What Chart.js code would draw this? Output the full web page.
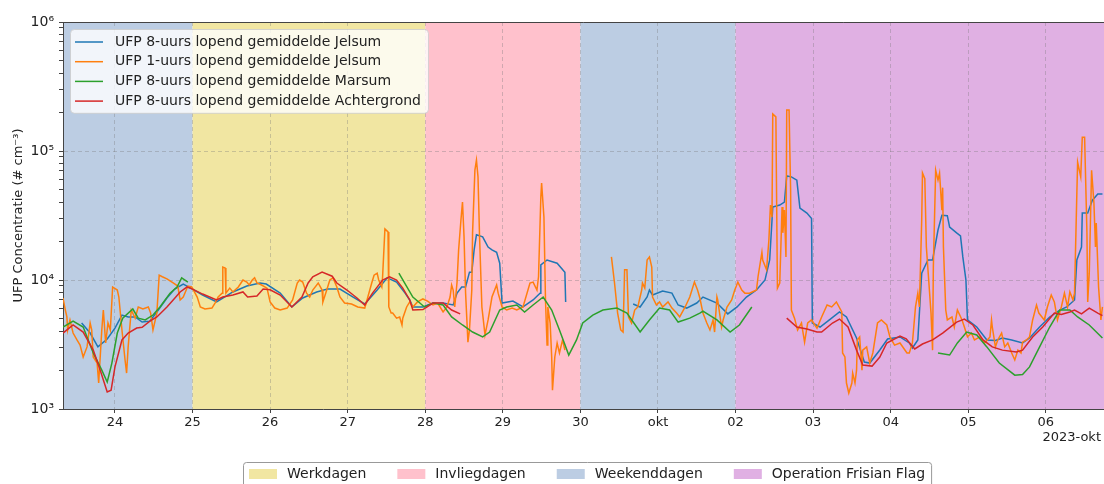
<!DOCTYPE html>
<html>
<head>
<meta charset="utf-8">
<script src="https://cdn.jsdelivr.net/npm/chart.js@4.4.0/dist/chart.umd.min.js"></script>
<style>
    html, body { margin: 0; padding: 0; background: #fff; }
    #wrap { width: 1104px; height: 484px; }
</style>
</head>
<body>
<div id="wrap"><canvas id="ufpChart" width="1104" height="484"></canvas></div>
<script>
// x values are days counted from 1 september 2023 (31 = 1 okt)
const dayTicks = [24, 25, 26, 27, 28, 29, 30, 31, 32, 33, 34, 35, 36];
const dayLabels = ['24', '25', '26', '27', '28', '29', '30', 'okt', '02', '03', '04', '05', '06'];
const decadeValues = [1e3, 1e4, 1e5, 1e6];
const decadeLabels = ['10\u00b3', '10\u2074', '10\u2075', '10\u2076'];

const bandStarts = [23.33, 25, 28, 30, 32];
const bandEnds = [25, 28, 30, 32, 36.75];
const bandTypes = ['Weekenddagen', 'Werkdagen', 'Invliegdagen', 'Weekenddagen', 'Operation Frisian Flag'];
const bandLegendLabels = ['Werkdagen', 'Invliegdagen', 'Weekenddagen', 'Operation Frisian Flag'];

const seriesLabels = [
    'UFP 8-uurs lopend gemiddelde Jelsum',
    'UFP 1-uurs lopend gemiddelde Jelsum',
    'UFP 8-uurs lopend gemiddelde Marsum',
    'UFP 8-uurs lopend gemiddelde Achtergrond'
];

// [day, #/cm3]; null breaks the line
const jelsum8 = [
    [23.57,4640],[23.68,3880],[23.78,3030],[23.90,3490],[24.00,4240],[24.09,5350],[24.17,5170],[24.26,5170],
    [24.35,4720],[24.45,4800],[24.54,5650],[24.67,7250],[24.77,8500],[24.88,9300],[25.00,8500],[25.13,7650],
    [25.31,6760],[25.39,7250],[25.52,8080],[25.70,8980],[25.87,9480],[25.95,9300],[26.13,7910],[26.28,6180],
    [26.42,7250],[26.60,8080],[26.74,8500],[26.90,8500],[27.07,7380],[27.22,6520],[27.38,8360],[27.51,10400],
    [27.63,9640],[27.74,7910],[27.80,7000],[27.84,6180],[27.97,6180],[28.10,6630],[28.23,6630],[28.36,6400],
    [28.41,7910],[28.47,8830],[28.52,8830],[28.57,11500],[28.60,11500],[28.63,17100],[28.66,22400],[28.74,21600],
    [28.81,18000],[28.86,17100],[28.92,16400],[28.96,13500],[28.99,6630],[29.13,6870],[29.26,6180],[29.39,7000],
    [29.48,7910],[29.49,13100],[29.57,14300],[29.70,13500],[29.80,11500],[29.81,6760],[29.82,null],
    [30.68,6520],[30.77,6180],[30.86,7380],[30.89,8360],[30.93,7650],[31.06,8200],[31.18,7910],[31.26,6400],
    [31.37,6060],[31.50,6630],[31.58,7380],[31.76,6630],[31.90,5460],[32.02,6180],[32.14,7380],[32.27,8360],
    [32.38,10000],[32.44,14300],[32.48,36800],[32.57,38100],[32.63,40200],[32.66,64000],[32.72,63000],[32.79,59500],
    [32.83,36100],[32.92,33000],[32.98,30000],[32.99,4640],[33.09,4320],[33.21,4900],[33.34,5650],[33.43,5170],
    [33.56,3550],[33.66,2310],[33.73,2270],[33.86,2870],[33.96,3490],[34.12,3620],[34.24,3250],[34.28,2970],
    [34.35,3430],[34.40,11300],[34.48,14300],[34.54,14300],[34.61,24400],[34.66,31800],[34.73,31500],[34.76,25700],
    [34.85,23200],[34.90,22000],[34.93,15100],[34.97,10000],[34.99,4900],[35.11,4320],[35.24,3430],[35.35,3400],
    [35.44,3550],[35.56,3430],[35.70,3250],[35.79,3550],[35.92,4320],[36.05,5170],[36.18,5850],[36.27,6180],
    [36.37,7000],[36.40,14300],[36.46,18000],[36.47,33000],[36.54,33000],[36.60,41600],[36.67,46500],[36.73,46500]
];

const jelsum1 = [
    [23.33,7250],[23.36,5850],[23.38,5170],[23.39,4100],[23.42,4900],[23.46,3880],[23.51,3430],[23.55,3130],
    [23.59,2530],[23.64,3030],[23.68,4640],[23.70,4100],[23.72,2530],[23.77,2270],[23.79,1590],[23.83,4100],
    [23.85,5850],[23.88,3250],[23.91,4640],[23.94,4100],[23.97,8830],[24.03,8360],[24.05,7380],[24.09,4100],
    [24.13,2400],[24.15,1900],[24.17,3030],[24.21,5850],[24.26,5060],[24.30,6180],[24.36,5960],[24.43,6180],
    [24.46,5540],[24.49,4100],[24.54,5540],[24.57,10900],[24.61,10600],[24.67,10200],[24.75,9480],[24.81,8980],
    [24.84,7000],[24.88,7380],[24.94,8980],[24.99,8830],[25.06,7380],[25.10,6180],[25.16,5960],[25.25,6060],
    [25.29,6630],[25.33,7380],[25.38,7910],[25.39,12600],[25.42,12400],[25.43,7910],[25.48,8650],[25.52,8080],
    [25.59,8830],[25.65,10000],[25.70,9640],[25.73,9150],[25.77,10000],[25.80,10400],[25.83,9480],[25.89,9150],
    [25.96,8650],[26.00,6760],[26.06,6060],[26.13,5850],[26.22,6060],[26.29,7000],[26.35,9480],[26.38,10000],
    [26.42,9640],[26.47,7910],[26.51,7380],[26.55,8360],[26.62,9480],[26.67,8360],[26.68,6760],[26.73,8360],
    [26.77,10000],[26.81,10400],[26.86,8830],[26.90,7380],[26.96,6630],[27.05,6520],[27.13,6180],[27.22,6060],
    [27.26,7380],[27.31,9480],[27.34,10900],[27.38,11300],[27.40,10000],[27.44,8830],[27.45,10600],[27.48,24900],
    [27.52,23600],[27.53,6180],[27.56,5540],[27.58,5540],[27.63,5060],[27.67,5170],[27.70,4480],[27.71,5060],
    [27.76,6180],[27.80,6760],[27.84,6180],[27.90,6760],[27.97,7130],[28.03,6870],[28.10,6400],[28.16,6630],
    [28.23,5650],[28.28,6180],[28.32,7380],[28.34,9150],[28.36,8360],[28.38,6180],[28.41,9640],[28.43,17100],
    [28.46,29200],[28.48,40200],[28.50,21600],[28.52,7910],[28.55,3300],[28.57,4100],[28.60,8360],[28.61,23200],
    [28.64,71000],[28.66,85000],[28.68,63000],[28.70,21600],[28.73,6180],[28.77,3750],[28.81,4900],[28.86,7380],
    [28.92,9150],[28.94,7910],[28.99,6180],[29.05,5850],[29.12,6060],[29.18,5850],[29.26,6180],[29.35,9480],
    [29.39,9640],[29.44,8360],[29.46,10600],[29.49,44000],[29.50,56500],[29.53,30700],[29.55,7000],[29.57,3130],
    [29.58,6180],[29.61,4640],[29.63,2530],[29.64,1400],[29.67,2530],[29.70,3250],[29.73,2720],[29.77,3430],
    [29.80,2860],[29.81,null],
    [30.40,15100],[30.44,9480],[30.48,5540],[30.52,4100],[30.55,3950],[30.57,12000],[30.60,12000],[30.62,5170],
    [30.66,4640],[30.70,5850],[30.74,6180],[30.79,8360],[30.80,9480],[30.83,8650],[30.86,14300],[30.89,15100],
    [30.92,12600],[30.93,7380],[30.98,6400],[31.02,6760],[31.06,6180],[31.13,6760],[31.18,6060],[31.24,5540],
    [31.28,5170],[31.35,6180],[31.41,7380],[31.47,9640],[31.51,8360],[31.54,7250],[31.58,5540],[31.63,4640],
    [31.67,4100],[31.71,4900],[31.73,3950],[31.76,7380],[31.77,7000],[31.82,4320],[31.84,4900],[31.89,6180],
    [31.95,7000],[31.99,8360],[32.03,9640],[32.08,8360],[32.12,7910],[32.18,7910],[32.27,8360],[32.29,10600],
    [32.34,16400],[32.35,14300],[32.40,12000],[32.43,20400],[32.45,38100],[32.47,30700],[32.48,194000],[32.52,184000],
    [32.53,39500],[32.54,8650],[32.57,9480],[32.60,36800],[32.61,23200],[32.63,34800],[32.65,15100],[32.66,208000],
    [32.69,208000],[32.71,49700],[32.72,5850],[32.76,5060],[32.80,4100],[32.85,4640],[32.89,3300],[32.93,4640],
    [32.98,4900],[33.05,4240],[33.11,5170],[33.18,6400],[33.24,6180],[33.30,6760],[33.37,5650],[33.38,2720],
    [33.41,2530],[33.43,1590],[33.46,1330],[33.50,1590],[33.51,1900],[33.54,1590],[33.56,2000],[33.57,3430],
    [33.60,3620],[33.63,2000],[33.64,2860],[33.69,3030],[33.73,2270],[33.77,2720],[33.83,4640],[33.88,4900],
    [33.95,4480],[33.99,3620],[34.05,3130],[34.12,3250],[34.21,2720],[34.24,2720],[34.28,3250],[34.32,6180],
    [34.35,7910],[34.37,6180],[34.40,29200],[34.41,67500],[34.44,61000],[34.46,18000],[34.49,10000],[34.52,5540],
    [34.54,2860],[34.55,12600],[34.58,71000],[34.61,59500],[34.63,67500],[34.66,34800],[34.67,52000],[34.68,18000],
    [34.71,5850],[34.73,4900],[34.79,5170],[34.82,4320],[34.86,5850],[34.92,4900],[34.95,4320],[34.99,3620],
    [35.04,3880],[35.08,3430],[35.15,3620],[35.21,3250],[35.28,3620],[35.30,4900],[35.31,4320],[35.35,3030],
    [35.38,3430],[35.43,3880],[35.47,3030],[35.51,3250],[35.56,2720],[35.60,2400],[35.64,2860],[35.68,2720],
    [35.70,3300],[35.75,3430],[35.79,3620],[35.83,4900],[35.88,6400],[35.91,5540],[35.95,5170],[35.98,4900],
    [36.02,6180],[36.07,7650],[36.11,6760],[36.15,4900],[36.20,6180],[36.24,7910],[36.28,6180],[36.31,8080],
    [36.35,7000],[36.37,7910],[36.40,47300],[36.41,82000],[36.45,63000],[36.47,128000],[36.50,128000],[36.53,23200],
    [36.54,6760],[36.56,11300],[36.59,71000],[36.62,39500],[36.64,18000],[36.65,27600],[36.68,8830],[36.71,4900],
    [36.73,6180]
];

const marsum8 = [
    [23.33,4320],[23.46,4800],[23.59,4320],[23.72,2720],[23.83,2000],[23.90,1620],[23.96,2270],[24.03,3880],
    [24.10,5060],[24.23,5960],[24.30,5060],[24.39,4900],[24.49,5350],[24.58,6180],[24.71,7910],[24.80,8830],
    [24.86,10400],[24.94,9640],[24.95,null],
    [27.66,11300],[27.84,7380],[27.99,6180],[28.10,6630],[28.23,6400],[28.34,5170],[28.48,4480],[28.61,3950],
    [28.74,3620],[28.83,3950],[28.96,5850],[29.05,6180],[29.18,6400],[29.28,5650],[29.39,6400],[29.52,7380],
    [29.63,5850],[29.73,4100],[29.85,2620],[29.95,3430],[30.03,4640],[30.16,5350],[30.29,5850],[30.47,6060],
    [30.60,5540],[30.77,3950],[30.89,4900],[31.02,6060],[31.15,5850],[31.26,4720],[31.41,5060],[31.54,5540],
    [31.58,5740],[31.76,4900],[31.93,3950],[32.05,4480],[32.21,6180],[32.22,null],
    [34.61,2720],[34.76,2620],[34.86,3250],[34.98,3950],[35.11,3750],[35.24,3030],[35.40,2270],[35.60,1830],
    [35.70,1850],[35.79,2120],[35.92,3030],[36.05,4320],[36.18,5850],[36.31,5850],[36.41,5170],[36.56,4480],
    [36.73,3550]
];

const achtergrond8 = [
    [23.33,3880],[23.46,4480],[23.59,3950],[23.72,2860],[23.81,2000],[23.90,1355],[23.95,1400],[24.00,2120],
    [24.09,3430],[24.17,3880],[24.28,4240],[24.35,4300],[24.45,4800],[24.54,5170],[24.67,6180],[24.75,7000],
    [24.84,8080],[24.93,8830],[25.00,8500],[25.13,7780],[25.31,7000],[25.39,7380],[25.52,7650],[25.65,8080],
    [25.71,7380],[25.83,7520],[25.91,8500],[26.00,8400],[26.13,7650],[26.28,6180],[26.41,7380],[26.49,9480],
    [26.55,10600],[26.67,11500],[26.80,10700],[26.86,9480],[26.99,8360],[27.12,7250],[27.22,6400],[27.32,7910],
    [27.45,10000],[27.54,10600],[27.63,10000],[27.71,8650],[27.80,7000],[27.84,5850],[27.97,5900],[28.10,6630],
    [28.23,6630],[28.34,5850],[28.45,5460],[28.46,null],
    [32.66,5060],[32.79,4320],[32.92,4170],[33.05,3950],[33.11,3950],[33.25,4640],[33.34,4980],[33.45,4320],
    [33.56,2860],[33.64,2190],[33.76,2150],[33.86,2530],[33.95,3250],[34.12,3680],[34.20,3500],[34.31,2920],
    [34.41,3190],[34.54,3430],[34.67,3880],[34.85,4720],[34.95,4980],[35.06,4480],[35.19,3430],[35.31,3030],
    [35.44,2860],[35.62,2770],[35.70,2860],[35.83,3620],[35.96,4320],[36.11,5540],[36.20,5400],[36.31,5650],
    [36.37,5850],[36.46,5460],[36.56,6060],[36.67,5540],[36.73,5300]
];

const seriesData = [jelsum8, jelsum1, marsum8, achtergrond8];
const seriesColors = ['#1f77b4', '#ff7f0e', '#2ca02c', '#d62728'];
const bandColors = {
    'Werkdagen': '#f1e6a2',
    'Invliegdagen': '#ffc1cc',
    'Weekenddagen': '#bccde3',
    'Operation Frisian Flag': '#e0b0e3'
};
const gridColor = 'rgba(120,120,120,0.35)';
const axisColor = '#444';
const fontFamily = '"DejaVu Sans", "Liberation Sans", sans-serif';

Chart.defaults.font.family = fontFamily;
Chart.defaults.font.size = 13;
Chart.defaults.color = '#222';

// Shaded day-type bands behind everything
const bandPlugin = {
    id: 'bandPlugin',
    beforeDraw(chart)
    {
        const { ctx, chartArea: a, scales: { x } } = chart;
        ctx.save();
        ctx.fillStyle = '#fff';
        ctx.fillRect(0, 0, chart.width, chart.height);
        bandStarts.forEach((start, i) =>
        {
            const x0 = Math.max(a.left, x.getPixelForValue(start));
            const x1 = Math.min(a.right, x.getPixelForValue(bandEnds[i]));
            ctx.fillStyle = bandColors[bandTypes[i]];
            ctx.fillRect(x0, a.top, x1 - x0, a.bottom - a.top);
        });
        ctx.restore();
    }
};

function roundedBox(ctx, x, y, w, h, r)
{
    ctx.beginPath();
    if (ctx.roundRect) ctx.roundRect(x, y, w, h, r);
    else ctx.rect(x, y, w, h);
}

// Series legend (top left in the plot), band legend (below), date offset label
const legendPlugin = {
    id: 'legendPlugin',
    afterDraw(chart)
    {
        const { ctx, chartArea: a } = chart;
        ctx.save();

        // top spine
        ctx.strokeStyle = axisColor;
        ctx.lineWidth = 1;
        ctx.beginPath();
        ctx.moveTo(a.left, a.top + 0.5);
        ctx.lineTo(a.right, a.top + 0.5);
        ctx.stroke();

        ctx.font = '14px ' + fontFamily;
        ctx.textBaseline = 'middle';
        ctx.textAlign = 'left';

        // series legend
        const datasets = chart.data.datasets;
        let maxW = 0;
        datasets.forEach(ds => { maxW = Math.max(maxW, ctx.measureText(ds.label).width); });
        const bx = a.left + 7, by = a.top + 7;
        const rowH = 19.7;
        roundedBox(ctx, bx + 0.5, by + 0.5, maxW + 52, rowH * 4 + 5, 4);
        ctx.fillStyle = 'rgba(255,255,255,0.8)';
        ctx.fill();
        ctx.strokeStyle = 'rgba(204,204,204,0.8)';
        ctx.stroke();
        datasets.forEach((ds, i) =>
        {
            const y = by + 13 + i * rowH;
            ctx.strokeStyle = ds.borderColor;
            ctx.lineWidth = 1.5;
            ctx.beginPath();
            ctx.moveTo(bx + 5, y);
            ctx.lineTo(bx + 33, y);
            ctx.stroke();
            ctx.fillStyle = '#222';
            ctx.fillText(ds.label, bx + 45, y);
        });

        // band legend
        const patchW = 28, patchH = 10, gap = 10, spacing = 31, pad = 6;
        const widths = bandLegendLabels.map(l => ctx.measureText(l).width);
        const total = widths.reduce((s, w) => s + w + patchW + gap, 0) + spacing * (widths.length - 1) + pad * 2;
        const lx = Math.round(587 - total / 2);
        const ly = 462;
        roundedBox(ctx, lx + 0.5, ly + 0.5, total, 30, 3);
        ctx.fillStyle = '#fff';
        ctx.fill();
        ctx.strokeStyle = '#999';
        ctx.lineWidth = 1;
        ctx.stroke();
        let cx = lx + pad;
        const cy = ly + 12;
        bandLegendLabels.forEach((label, i) =>
        {
            ctx.fillStyle = bandColors[label];
            ctx.fillRect(cx, cy - patchH / 2, patchW, patchH);
            ctx.fillStyle = '#222';
            ctx.fillText(label, cx + patchW + gap, cy);
            cx += patchW + gap + widths[i] + spacing;
        });

        // date offset label
        ctx.font = '13px ' + fontFamily;
        ctx.textAlign = 'right';
        ctx.fillText('2023-okt', a.right - 3, 438);
        ctx.restore();
    }
};

const yTickValues = [];
for (let d = 1e3; d < 1e6; d *= 10)
{
    for (let k = 1; k < 10; k++) yTickValues.push(d * k);
}
yTickValues.push(1e6);

const chartData = {
    datasets: seriesLabels.map((label, i) => ({
        label: label,
        data: seriesData[i],
        borderColor: seriesColors[i],
        backgroundColor: seriesColors[i],
        borderWidth: 1.5,
        pointRadius: 0,
        tension: 0,
        spanGaps: false,
        order: seriesLabels.length - i
    }))
};

const options = {
    responsive: false,
    animation: false,
    layout: {
        autoPadding: false,
        padding: { top: 22, right: 0, bottom: 0, left: 0 }
    },
    plugins: {
        legend: { display: false },
        tooltip: { enabled: false }
    },
    scales: {
        x: {
            type: 'linear',
            min: 23.33,
            max: 36.75,
            afterBuildTicks: scale => { scale.ticks = dayTicks.map(v => ({ value: v })); },
            afterFit: scale => { scale.height = 75; },
            ticks: {
                autoSkip: false,
                maxRotation: 0,
                padding: 2,
                color: '#222',
                callback: (value, index) => dayLabels[index]
            },
            grid: {
                color: gridColor,
                tickColor: axisColor,
                tickLength: 4
            },
            border: { display: true, color: axisColor, width: 1, dash: [4, 3] }
        },
        y: {
            type: 'logarithmic',
            min: 1e3,
            max: 1e6,
            afterBuildTicks: scale =>
            {
                scale.ticks = yTickValues.map(v => ({ value: v, major: decadeValues.includes(v) }));
            },
            afterFit: scale => { scale.width = 63; },
            ticks: {
                autoSkip: false,
                padding: 5,
                color: '#222',
                font: { size: 14 },
                callback: (value) =>
                {
                    const k = decadeValues.indexOf(value);
                    return k >= 0 ? decadeLabels[k] : '';
                }
            },
            grid: {
                color: ctx => (ctx.tick && ctx.tick.major ? gridColor : 'rgba(0,0,0,0)'),
                tickColor: axisColor,
                tickLength: 4
            },
            border: { display: true, color: axisColor, width: 1, dash: [4, 3] },
            title: {
                display: true,
                text: 'UFP Concentratie (# cm\u207b\u00b3)',
                color: '#222',
                font: { size: 13 },
                padding: { top: 11, bottom: 0 }
            }
        }
    }
};

new Chart(document.getElementById('ufpChart').getContext('2d'), {
    type: 'line',
    data: chartData,
    options: options,
    plugins: [bandPlugin, legendPlugin]
});
</script>
</body>
</html>
